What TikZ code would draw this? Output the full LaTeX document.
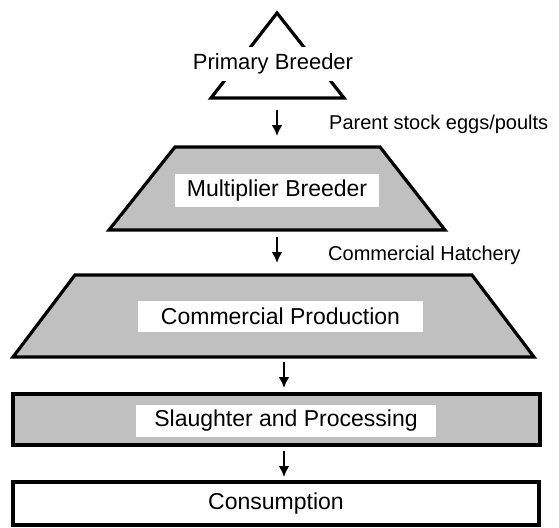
\documentclass[tikz,border=0pt]{standalone}
\usepackage{fontspec}
\setmainfont{Liberation Sans}
\usetikzlibrary{arrows.meta}
\definecolor{fillgray}{HTML}{C0C0C0}
\begin{document}
\begin{tikzpicture}[x=1pt,y=-1pt,
  shapeline/.style={line width=3.2pt, line join=miter},
  grayfill/.style={fill=fillgray},
  whitelabel/.style={fill=white, inner sep=0pt, font=\fontsize{23}{27}\selectfont},
  sidelabel/.style={anchor=west, inner sep=0pt, font=\fontsize{20}{24}\selectfont},
  flow/.style={line width=2.8pt, -{Latex[length=11pt,width=11pt]}}]
\useasboundingbox (0,0) rectangle (559,527);

% Primary breeder triangle
\draw[shapeline] (211,98) -- (277,13) -- (344,98) -- cycle;
\node[whitelabel, font=\fontsize{22}{26}\selectfont, minimum width=166, minimum height=33] (primary) at (273,64) {Primary Breeder};

% Multiplier breeder trapezoid
\draw[shapeline, grayfill] (175,147) -- (380,147) -- (445,230) -- (109,230) -- cycle;
\node[whitelabel, minimum width=204, minimum height=33] (multiplier) at (277,190.5) {Multiplier Breeder};

% Commercial production trapezoid
\draw[shapeline, grayfill] (75,275) -- (472,275) -- (534,357) -- (13,357) -- cycle;
\node[whitelabel, minimum width=285, minimum height=31] (production) at (280.5,316.5) {Commercial Production};

% Slaughter and processing
\draw[shapeline, grayfill] (13,394) rectangle (540,445);
\node[whitelabel, minimum width=300, minimum height=32] (slaughter) at (286,421) {Slaughter and Processing};

% Consumption
\draw[shapeline] (13,482) rectangle (539,525);
\node[whitelabel, fill=none] (consumption) at (276,503.5) {Consumption};

% side labels
\node[sidelabel] (parent) at (329,124) {Parent stock eggs/poults};
\node[sidelabel] (hatchery) at (328,255) {Commercial Hatchery};

% arrows
\coordinate (a1s) at (277,110);
\coordinate (a1e) at (277,136);
\coordinate (a2s) at (277,237);
\coordinate (a2e) at (277,263);
\coordinate (a3s) at (284,362);
\coordinate (a3e) at (284,388);
\coordinate (a4s) at (284,451);
\coordinate (a4e) at (284,477);
\draw[flow] (a1s) -- (a1e);
\draw[flow] (a2s) -- (a2e);
\draw[flow] (a3s) -- (a3e);
\draw[flow] (a4s) -- (a4e);
\end{tikzpicture}
\end{document}
